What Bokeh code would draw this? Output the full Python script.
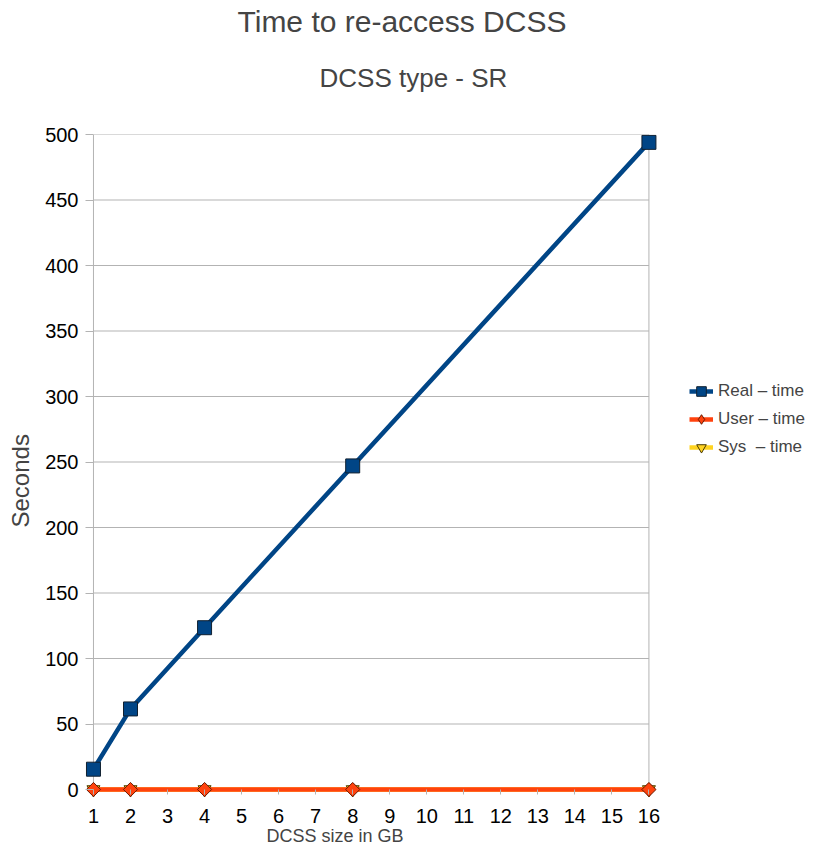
import numpy as np
from bokeh.plotting import figure
from bokeh.models import Title, Legend, LegendItem, FixedTicker, Range1d, ColumnDataSource
from bokeh.embed import file_html
from bokeh.resources import INLINE

# ---- data ----
sizes = [1, 2, 4, 8, 16]
real_time = [15.5, 61.5, 123.5, 247, 494]
user_time = [0, 0, 0, 0, 0]
sys_time = [0, 0, 0, 0, 0]
x_ticks = list(range(1, 17))
y_ticks = list(range(0, 501, 50))

title_text = "Time to re-access DCSS"
subtitle_text = "DCSS type - SR"
x_label = "DCSS size  in GB"
y_label = "Seconds"
series_names = ["Real \u2013 time", "User \u2013 time", "Sys  \u2013 time"]

FONT = "Liberation Sans"
GRID = "#b3b3b3"
REAL_C = "#004586"
USER_C = "#ff420e"
SYS_C = "#ffd320"

W, H = 806, 845
# plot area (data extent) in pixels
AREA_L, AREA_R, AREA_T, AREA_B = 91, 648, 134, 789
PAD = 10          # frame padding so that edge markers are not clipped
PAD_B = 8

x0, x1 = x_ticks[0], x_ticks[-1]
y0, y1 = y_ticks[0], y_ticks[-1]
ux = (x1 - x0) / (AREA_R - AREA_L)
uy = (y1 - y0) / (AREA_B - AREA_T)

p = figure(width=W, height=H, output_backend="svg", toolbar_location=None,
           x_range=Range1d(x0 - PAD * ux, x1 + (W - AREA_R) * ux),
           y_range=Range1d(y0 - PAD_B * uy, y1),
           min_border_left=AREA_L - PAD, min_border_right=0,
           min_border_top=AREA_T, min_border_bottom=H - (AREA_B + PAD_B),
           title=None)
p.background_fill_color = "white"
p.border_fill_color = "white"
p.outline_line_color = None
p.xgrid.visible = False
p.ygrid.visible = False

# grid lines and plot-area border, bounded to the data extent
p.segment(x0=[x0] * len(y_ticks), x1=[x1] * len(y_ticks), y0=y_ticks, y1=y_ticks,
          line_color=GRID, line_width=1)
p.segment(x0=[x0, x1], x1=[x0, x1], y0=[y0, y0], y1=[y1, y1],
          line_color=GRID, line_width=1)

p.xaxis.ticker = FixedTicker(ticks=x_ticks)
p.yaxis.ticker = FixedTicker(ticks=y_ticks)
for ax in (p.xaxis[0], p.yaxis[0]):
    ax.axis_line_color = None
    ax.major_tick_line_color = GRID
    ax.minor_tick_line_color = None
    ax.major_label_text_font = FONT
    ax.major_label_text_font_size = "20px"
    ax.major_label_text_color = "black"
# x ticks: from the data bottom a few px downward
p.xaxis.major_tick_in = PAD_B
p.xaxis.major_tick_out = -3
p.xaxis.major_label_standoff = 11
# y ticks: 8px to the left of the data area
p.yaxis.major_tick_in = PAD
p.yaxis.major_tick_out = -2
p.yaxis.major_label_standoff = 5

# series
src = ColumnDataSource(dict(x=sizes, real=real_time, user=user_time, sys=sys_time))
r_line = p.line("x", "real", source=src, line_color=REAL_C, line_width=4.5)
r_mark = p.scatter("x", "real", source=src, marker="square", size=14, fill_color=REAL_C,
                   line_color="#102030", line_width=1)
s_line = p.line("x", "sys", source=src, line_color=SYS_C, line_width=4.5)
s_mark = p.scatter("x", "sys", source=src, marker="inverted_triangle", size=13,
                   fill_color=SYS_C, line_color="#4a3a00", line_width=1)
u_line = p.line("x", "user", source=src, line_color=USER_C, line_width=4.5)
# diamond used as the legend swatch (hidden under the rotated squares in the plot)
u_key = p.scatter("x", "user", source=src, marker="diamond", size=13,
                  fill_color=USER_C, line_color="#6a1a00", line_width=1)
u_mark = p.scatter("x", "user", source=src, marker="square", size=10, angle=np.pi / 4,
                   fill_color=USER_C, line_color="#6a1a00", line_width=1)

legend = Legend(items=[
    LegendItem(label=series_names[0], renderers=[r_line, r_mark]),
    LegendItem(label=series_names[1], renderers=[u_line, u_key]),
    LegendItem(label=series_names[2], renderers=[s_line, s_mark]),
], location=(606, 336))
legend.padding = 0
legend.margin = 0
legend.spacing = 0
legend.glyph_width = 24
legend.glyph_height = 28
legend.label_height = 28
legend.label_standoff = 5
legend.label_text_font = FONT
legend.label_text_font_size = "17px"
legend.border_line_color = None
legend.background_fill_alpha = 0
p.add_layout(legend)

# titles (stacked from the frame outward, spacers in between)
p.add_layout(Title(text=" ", text_font_size="10px", standoff=29), "above")
p.add_layout(Title(text=subtitle_text, align="left", offset=236, text_font=FONT,
                   text_font_size="26px", text_font_style="normal", standoff=0), "above")
p.add_layout(Title(text=" ", text_font_size="10px", standoff=10), "above")
p.add_layout(Title(text=title_text, align="left", offset=154, text_font=FONT,
                   text_font_size="30px", text_font_style="normal", standoff=0), "above")

p.add_layout(Title(text=x_label, align="left", offset=183, text_font=FONT,
                   text_font_size="18px", text_font_style="normal", standoff=-4,
                   vertical_align="bottom"), "below")
p.add_layout(Title(text=y_label, align="left", offset=270, text_font=FONT,
                   text_font_size="24px", text_font_style="normal", standoff=13,
                   vertical_align="top"), "left")

open("out.html", "w").write(file_html(p, INLINE))
